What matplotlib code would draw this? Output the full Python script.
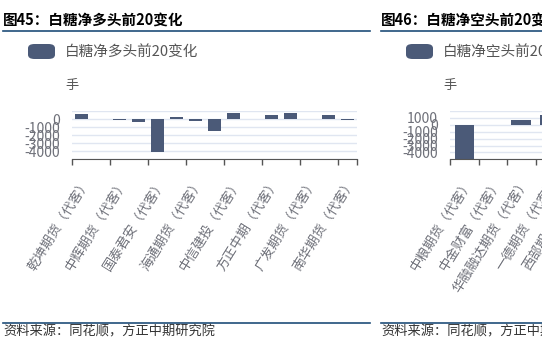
import numpy as np
import matplotlib
matplotlib.use('Agg')
import matplotlib.pyplot as plt
from matplotlib.patches import FancyBboxPatch
from matplotlib.lines import Line2D

plt.rcParams['font.family'] = ['Noto Sans CJK SC', 'DejaVu Sans']

# 图45: 白糖净多头前20变化 (15 members, every other label shown)
long_labels = ['乾坤期货（代客）', '中辉期货（代客）', '国泰君安（代客）', '海通期货（代客）',
               '中信建投（代客）', '方正中期（代客）', '广发期货（代客）', '南华期货（代客）']
long_values = [670, -20, -120, -360, -4080, 200, -250, -1480, 720, -50, 520, 760, -30, 520, -60]

# 图46: 白糖净空头前20变化 (10 members, only the left part is on the page)
short_labels = ['中粮期货（代客）', '中金财富（代客）', '华融融达期货（代客）', '一德期货（代客）', '西部期货（代客）']
short_values = [-4950, -50, 650, 1400]

W, H = 542, 352
BAR = '#4b5a78'
GREY = '#6e7079'

fig = plt.figure(figsize=(W / 100, H / 100), dpi=100)


def fx(px):
    return px / W


def fy(py):
    return 1 - py / H


def hline(x0, x1, y):
    fig.add_artist(Line2D([fx(x0), fx(x1)], [fy(y), fy(y)], color='#1f4e79', lw=1.2,
                          transform=fig.transFigure))


def panel(off, title, legend, values, labels, label_pos, tick_pos, n, ylim, shown):
    # header, legend, unit
    fig.text(fx(3 + off), fy(20), title, fontsize=10.5, fontweight='bold', va='center', ha='left')
    hline(3 + off, 370 + off, 31)
    fig.add_artist(FancyBboxPatch((fx(28 + off), fy(59)), fx(27), 15 / H,
                                  boxstyle='round,pad=0,rounding_size=0.012',
                                  fc=BAR, ec='none', transform=fig.transFigure))
    fig.text(fx(65 + off), fy(51.5), legend, fontsize=10.5, color='#555555', va='center', ha='left')
    fig.text(fx(65 + off), fy(85), '手', fontsize=9.5, color='#555555', va='center', ha='left')

    ax = fig.add_axes([fx(72.3 + off), fy(159.3), 284.4 / W, 48.3 / H])
    ax.bar(np.arange(len(values)), values, width=0.7, color=BAR, zorder=3)
    ax.set_xlim(-0.5, n - 0.5)
    ax.set_ylim(*ylim)
    yt = np.arange(ylim[0], ylim[1] + 1, 1000)
    ax.set_yticks(yt)
    ax.set_yticklabels([str(v) if v in shown else '' for v in yt])
    ax.grid(axis='y', color='#e0e6f1', lw=1, zorder=0)
    for s in ['top', 'right', 'left']:
        ax.spines[s].set_visible(False)
    ax.spines['bottom'].set_color('#555555')
    ax.spines['bottom'].set_zorder(4)
    ax.tick_params(axis='y', length=0, pad=9, labelsize=10, labelcolor=GREY)
    ax.set_xticks(label_pos)
    ax.set_xticklabels(labels, rotation=58, ha='right', va='top', rotation_mode='anchor',
                       fontsize=9.5, color=GREY)
    ax.tick_params(axis='x', which='major', length=0, pad=12)
    ax.set_xticks(tick_pos, minor=True)
    ax.tick_params(axis='x', which='minor', length=4, width=1, color='#555555')

    # source line
    hline(3 + off, 370 + off, 322.5)
    fig.text(fx(3 + off), fy(332), '资料来源：同花顺，方正中期研究院', fontsize=9.5,
             style='italic', color='#333333', va='center', ha='left')
    return ax


panel(0, '图45：白糖净多头前20变化', '白糖净多头前20变化', long_values, long_labels,
      list(range(0, 15, 2)), [-0.5 + 2 * k for k in range(8)] + [14.5], 15,
      (-5000, 1000), [0, -1000, -2000, -3000, -4000])

panel(378, '图46：白糖净空头前20变化', '白糖净空头前20变化', short_values, short_labels,
      list(range(len(short_labels))), [k - 0.5 for k in range(11)], 10,
      (-5000, 2000), [1000, 0, -1000, -2000, -3000, -4000])

fig.savefig('out.png', dpi=100)
